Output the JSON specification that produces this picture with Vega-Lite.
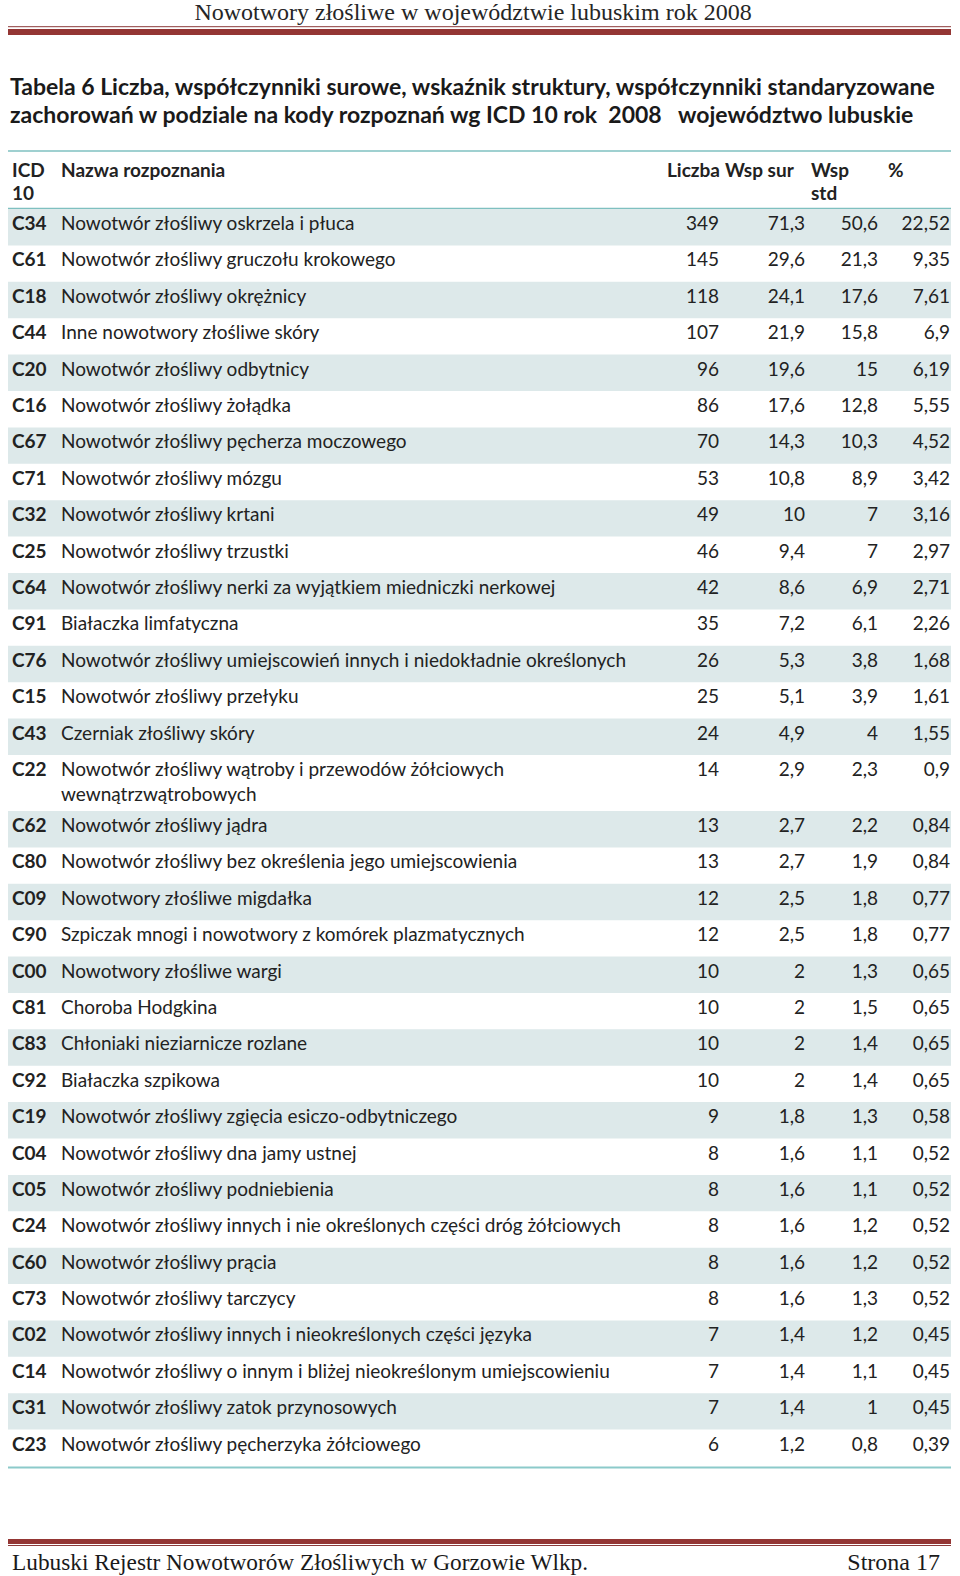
{
  "$schema": "https://vega.github.io/schema/vega-lite/v6.json",
  "padding": 0,
  "spacing": 0,
  "bounds": "flush",
  "background": "white",
  "config": {
    "view": {"stroke": null},
    "concat": {"spacing": 0},
    "text": {"font": "Lato", "fontSize": 19, "color": "#222222"},
    "locale": {"number": {"decimal": ",", "thousands": "\u00a0", "grouping": [3], "currency": ["", " zł"]}}
  },
  "datasets": {
    "rows": [
      {"code": "C34", "name": "Nowotwór złośliwy oskrzela i płuca", "n": 349, "sur": 71.3, "std": 50.6, "pct": 22.52},
      {"code": "C61", "name": "Nowotwór złośliwy gruczołu krokowego", "n": 145, "sur": 29.6, "std": 21.3, "pct": 9.35},
      {"code": "C18", "name": "Nowotwór złośliwy okrężnicy", "n": 118, "sur": 24.1, "std": 17.6, "pct": 7.61},
      {"code": "C44", "name": "Inne nowotwory złośliwe skóry", "n": 107, "sur": 21.9, "std": 15.8, "pct": 6.9},
      {"code": "C20", "name": "Nowotwór złośliwy odbytnicy", "n": 96, "sur": 19.6, "std": 15, "pct": 6.19},
      {"code": "C16", "name": "Nowotwór złośliwy żołądka", "n": 86, "sur": 17.6, "std": 12.8, "pct": 5.55},
      {"code": "C67", "name": "Nowotwór złośliwy pęcherza moczowego", "n": 70, "sur": 14.3, "std": 10.3, "pct": 4.52},
      {"code": "C71", "name": "Nowotwór złośliwy mózgu", "n": 53, "sur": 10.8, "std": 8.9, "pct": 3.42},
      {"code": "C32", "name": "Nowotwór złośliwy krtani", "n": 49, "sur": 10, "std": 7, "pct": 3.16},
      {"code": "C25", "name": "Nowotwór złośliwy trzustki", "n": 46, "sur": 9.4, "std": 7, "pct": 2.97},
      {"code": "C64", "name": "Nowotwór złośliwy nerki za wyjątkiem miedniczki nerkowej", "n": 42, "sur": 8.6, "std": 6.9, "pct": 2.71},
      {"code": "C91", "name": "Białaczka limfatyczna", "n": 35, "sur": 7.2, "std": 6.1, "pct": 2.26},
      {"code": "C76", "name": "Nowotwór złośliwy umiejscowień innych i niedokładnie określonych", "n": 26, "sur": 5.3, "std": 3.8, "pct": 1.68},
      {"code": "C15", "name": "Nowotwór złośliwy przełyku", "n": 25, "sur": 5.1, "std": 3.9, "pct": 1.61},
      {"code": "C43", "name": "Czerniak złośliwy skóry", "n": 24, "sur": 4.9, "std": 4, "pct": 1.55},
      {"code": "C22", "name": "Nowotwór złośliwy wątroby i przewodów żółciowych\nwewnątrzwątrobowych", "n": 14, "sur": 2.9, "std": 2.3, "pct": 0.9},
      {"code": "C62", "name": "Nowotwór złośliwy jądra", "n": 13, "sur": 2.7, "std": 2.2, "pct": 0.84},
      {"code": "C80", "name": "Nowotwór złośliwy bez określenia jego umiejscowienia", "n": 13, "sur": 2.7, "std": 1.9, "pct": 0.84},
      {"code": "C09", "name": "Nowotwory złośliwe migdałka", "n": 12, "sur": 2.5, "std": 1.8, "pct": 0.77},
      {"code": "C90", "name": "Szpiczak mnogi i nowotwory z komórek plazmatycznych", "n": 12, "sur": 2.5, "std": 1.8, "pct": 0.77},
      {"code": "C00", "name": "Nowotwory złośliwe wargi", "n": 10, "sur": 2, "std": 1.3, "pct": 0.65},
      {"code": "C81", "name": "Choroba Hodgkina", "n": 10, "sur": 2, "std": 1.5, "pct": 0.65},
      {"code": "C83", "name": "Chłoniaki nieziarnicze rozlane", "n": 10, "sur": 2, "std": 1.4, "pct": 0.65},
      {"code": "C92", "name": "Białaczka szpikowa", "n": 10, "sur": 2, "std": 1.4, "pct": 0.65},
      {"code": "C19", "name": "Nowotwór złośliwy zgięcia esiczo-odbytniczego", "n": 9, "sur": 1.8, "std": 1.3, "pct": 0.58},
      {"code": "C04", "name": "Nowotwór złośliwy dna jamy ustnej", "n": 8, "sur": 1.6, "std": 1.1, "pct": 0.52},
      {"code": "C05", "name": "Nowotwór złośliwy podniebienia", "n": 8, "sur": 1.6, "std": 1.1, "pct": 0.52},
      {"code": "C24", "name": "Nowotwór złośliwy innych i nie określonych części dróg żółciowych", "n": 8, "sur": 1.6, "std": 1.2, "pct": 0.52},
      {"code": "C60", "name": "Nowotwór złośliwy prącia", "n": 8, "sur": 1.6, "std": 1.2, "pct": 0.52},
      {"code": "C73", "name": "Nowotwór złośliwy tarczycy", "n": 8, "sur": 1.6, "std": 1.3, "pct": 0.52},
      {"code": "C02", "name": "Nowotwór złośliwy innych i nieokreślonych części języka", "n": 7, "sur": 1.4, "std": 1.2, "pct": 0.45},
      {"code": "C14", "name": "Nowotwór złośliwy o innym i bliżej nieokreślonym umiejscowieniu", "n": 7, "sur": 1.4, "std": 1.1, "pct": 0.45},
      {"code": "C31", "name": "Nowotwór złośliwy zatok przynosowych", "n": 7, "sur": 1.4, "std": 1, "pct": 0.45},
      {"code": "C23", "name": "Nowotwór złośliwy pęcherzyka żółciowego", "n": 6, "sur": 1.2, "std": 0.8, "pct": 0.39}
    ]
  },
  "vconcat": [
    {
      "width": 960,
      "height": 209,
      "data": {"values": [{}]},
      "layer": [
        {"mark": {"type": "text", "text": "Nowotwory złośliwe w województwie lubuskim rok 2008", "font": "Liberation Serif", "fontSize": 24, "align": "center", "baseline": "alphabetic", "color": "#262626"},
         "encoding": {"x": {"datum": 473, "type": "quantitative", "scale": {"domain": [0, 960], "nice": false, "zero": false}, "axis": null},
                      "y": {"datum": 20, "type": "quantitative", "scale": {"domain": [0, 209], "reverse": true, "nice": false, "zero": false}, "axis": null}}},
        {"mark": {"type": "rule", "color": "#8c3b3b", "strokeWidth": 1},
         "encoding": {"x": {"datum": 8, "type": "quantitative", "axis": null}, "x2": {"datum": 951}, "y": {"datum": 26.7, "type": "quantitative", "axis": null}}},
        {"mark": {"type": "rule", "color": "#943634", "strokeWidth": 6},
         "encoding": {"x": {"datum": 8, "type": "quantitative", "axis": null}, "x2": {"datum": 951}, "y": {"datum": 32, "type": "quantitative", "axis": null}}},
        {"mark": {"type": "text", "text": "Tabela 6 Liczba, współczynniki surowe, wskaźnik struktury, współczynniki standaryzowane", "fontWeight": "bold", "fontSize": 23, "align": "left", "baseline": "alphabetic", "color": "#1a1a1a"},
         "encoding": {"x": {"datum": 10, "type": "quantitative", "axis": null}, "y": {"datum": 95, "type": "quantitative", "axis": null}}},
        {"mark": {"type": "text", "text": "zachorowań w podziale na kody rozpoznań wg ICD 10 rok \u00a02008 \u00a0 województwo lubuskie", "fontWeight": "bold", "fontSize": 23, "align": "left", "baseline": "alphabetic", "color": "#1a1a1a"},
         "encoding": {"x": {"datum": 10, "type": "quantitative", "axis": null}, "y": {"datum": 123, "type": "quantitative", "axis": null}}},
        {"mark": {"type": "rule", "color": "#7fc0c0", "strokeWidth": 1.5},
         "encoding": {"x": {"datum": 8, "type": "quantitative", "axis": null}, "x2": {"datum": 951}, "y": {"datum": 151, "type": "quantitative", "axis": null}}},
        {"mark": {"type": "text", "text": "ICD", "fontWeight": "bold", "align": "left", "baseline": "alphabetic"},
         "encoding": {"x": {"datum": 12, "type": "quantitative", "axis": null}, "y": {"datum": 177, "type": "quantitative", "axis": null}}},
        {"mark": {"type": "text", "text": "10", "fontWeight": "bold", "align": "left", "baseline": "alphabetic"},
         "encoding": {"x": {"datum": 12, "type": "quantitative", "axis": null}, "y": {"datum": 200, "type": "quantitative", "axis": null}}},
        {"mark": {"type": "text", "text": "Nazwa rozpoznania", "fontWeight": "bold", "align": "left", "baseline": "alphabetic"},
         "encoding": {"x": {"datum": 61, "type": "quantitative", "axis": null}, "y": {"datum": 177, "type": "quantitative", "axis": null}}},
        {"mark": {"type": "text", "text": "Liczba", "fontWeight": "bold", "align": "left", "baseline": "alphabetic"},
         "encoding": {"x": {"datum": 667, "type": "quantitative", "axis": null}, "y": {"datum": 177, "type": "quantitative", "axis": null}}},
        {"mark": {"type": "text", "text": "Wsp sur", "fontWeight": "bold", "align": "left", "baseline": "alphabetic"},
         "encoding": {"x": {"datum": 725, "type": "quantitative", "axis": null}, "y": {"datum": 177, "type": "quantitative", "axis": null}}},
        {"mark": {"type": "text", "text": "Wsp", "fontWeight": "bold", "align": "left", "baseline": "alphabetic"},
         "encoding": {"x": {"datum": 811, "type": "quantitative", "axis": null}, "y": {"datum": 177, "type": "quantitative", "axis": null}}},
        {"mark": {"type": "text", "text": "std", "fontWeight": "bold", "align": "left", "baseline": "alphabetic"},
         "encoding": {"x": {"datum": 811, "type": "quantitative", "axis": null}, "y": {"datum": 200, "type": "quantitative", "axis": null}}},
        {"mark": {"type": "text", "text": "%", "fontWeight": "bold", "align": "left", "baseline": "alphabetic"},
         "encoding": {"x": {"datum": 888, "type": "quantitative", "axis": null}, "y": {"datum": 177, "type": "quantitative", "axis": null}}},
        {"mark": {"type": "rule", "color": "#7fc0c0", "strokeWidth": 1.5},
         "encoding": {"x": {"datum": 8, "type": "quantitative", "axis": null}, "x2": {"datum": 951}, "y": {"datum": 208.5, "type": "quantitative", "axis": null}}}
      ]
    },
    {
      "width": 960,
      "height": 546,
      "data": {"name": "rows"},
      "transform": [{"window": [{"op": "row_number", "as": "rn"}]}, {"filter": "datum.rn <= 15"}],
      "layer": [
        {"transform": [{"filter": "datum.rn % 2 == 1"}],
         "mark": {"type": "rect", "color": "#dde9ea"},
         "encoding": {"x": {"datum": 8, "type": "quantitative", "scale": {"domain": [0, 960], "nice": false, "zero": false}, "axis": null}, "x2": {"datum": 951},
                      "y": {"field": "rn", "type": "ordinal", "scale": {"type": "band", "paddingInner": 0, "paddingOuter": 0}, "axis": null}}},
        {"mark": {"type": "text", "align": "left", "baseline": "alphabetic", "dy": 21, "fontWeight": "bold"},
         "encoding": {"x": {"datum": 12, "type": "quantitative", "axis": null}, "y": {"field": "rn", "type": "ordinal", "bandPosition": 0, "axis": null}, "text": {"field": "code"}}},
        {"mark": {"type": "text", "align": "left", "baseline": "alphabetic", "dy": 21},
         "encoding": {"x": {"datum": 61, "type": "quantitative", "axis": null}, "y": {"field": "rn", "type": "ordinal", "bandPosition": 0, "axis": null}, "text": {"field": "name"}}},
        {"mark": {"type": "text", "align": "right", "baseline": "alphabetic", "dy": 21},
         "encoding": {"x": {"datum": 719, "type": "quantitative", "axis": null}, "y": {"field": "rn", "type": "ordinal", "bandPosition": 0, "axis": null}, "text": {"field": "n", "type": "quantitative", "format": "~f"}}},
        {"mark": {"type": "text", "align": "right", "baseline": "alphabetic", "dy": 21},
         "encoding": {"x": {"datum": 805, "type": "quantitative", "axis": null}, "y": {"field": "rn", "type": "ordinal", "bandPosition": 0, "axis": null}, "text": {"field": "sur", "type": "quantitative", "format": "~f"}}},
        {"mark": {"type": "text", "align": "right", "baseline": "alphabetic", "dy": 21},
         "encoding": {"x": {"datum": 878, "type": "quantitative", "axis": null}, "y": {"field": "rn", "type": "ordinal", "bandPosition": 0, "axis": null}, "text": {"field": "std", "type": "quantitative", "format": "~f"}}},
        {"mark": {"type": "text", "align": "right", "baseline": "alphabetic", "dy": 21},
         "encoding": {"x": {"datum": 950, "type": "quantitative", "axis": null}, "y": {"field": "rn", "type": "ordinal", "bandPosition": 0, "axis": null}, "text": {"field": "pct", "type": "quantitative", "format": "~f"}}}
      ]
    },
    {
      "width": 960,
      "height": 56,
      "data": {"name": "rows"},
      "transform": [{"window": [{"op": "row_number", "as": "rn"}]}, {"filter": "datum.rn == 16"}],
      "layer": [
        {"mark": {"type": "text", "align": "left", "baseline": "alphabetic", "dy": 21, "fontWeight": "bold"},
         "encoding": {"x": {"datum": 12, "type": "quantitative", "scale": {"domain": [0, 960], "nice": false, "zero": false}, "axis": null}, "y": {"field": "rn", "type": "ordinal", "bandPosition": 0, "scale": {"type": "band", "paddingInner": 0, "paddingOuter": 0}, "axis": null}, "text": {"field": "code"}}},
        {"mark": {"type": "text", "align": "left", "baseline": "alphabetic", "dy": 21, "lineBreak": "\n", "lineHeight": 24.5},
         "encoding": {"x": {"datum": 61, "type": "quantitative", "axis": null}, "y": {"field": "rn", "type": "ordinal", "bandPosition": 0, "axis": null}, "text": {"field": "name"}}},
        {"mark": {"type": "text", "align": "right", "baseline": "alphabetic", "dy": 21},
         "encoding": {"x": {"datum": 719, "type": "quantitative", "axis": null}, "y": {"field": "rn", "type": "ordinal", "bandPosition": 0, "axis": null}, "text": {"field": "n", "type": "quantitative", "format": "~f"}}},
        {"mark": {"type": "text", "align": "right", "baseline": "alphabetic", "dy": 21},
         "encoding": {"x": {"datum": 805, "type": "quantitative", "axis": null}, "y": {"field": "rn", "type": "ordinal", "bandPosition": 0, "axis": null}, "text": {"field": "sur", "type": "quantitative", "format": "~f"}}},
        {"mark": {"type": "text", "align": "right", "baseline": "alphabetic", "dy": 21},
         "encoding": {"x": {"datum": 878, "type": "quantitative", "axis": null}, "y": {"field": "rn", "type": "ordinal", "bandPosition": 0, "axis": null}, "text": {"field": "std", "type": "quantitative", "format": "~f"}}},
        {"mark": {"type": "text", "align": "right", "baseline": "alphabetic", "dy": 21},
         "encoding": {"x": {"datum": 950, "type": "quantitative", "axis": null}, "y": {"field": "rn", "type": "ordinal", "bandPosition": 0, "axis": null}, "text": {"field": "pct", "type": "quantitative", "format": "~f"}}}
      ]
    },
    {
      "width": 960,
      "height": 655,
      "data": {"name": "rows"},
      "transform": [{"window": [{"op": "row_number", "as": "rn"}]}, {"filter": "datum.rn >= 17"}],
      "layer": [
        {"transform": [{"filter": "datum.rn % 2 == 1"}],
         "mark": {"type": "rect", "color": "#dde9ea"},
         "encoding": {"x": {"datum": 8, "type": "quantitative", "scale": {"domain": [0, 960], "nice": false, "zero": false}, "axis": null}, "x2": {"datum": 951},
                      "y": {"field": "rn", "type": "ordinal", "scale": {"type": "band", "paddingInner": 0, "paddingOuter": 0}, "axis": null}}},
        {"mark": {"type": "text", "align": "left", "baseline": "alphabetic", "dy": 21, "fontWeight": "bold"},
         "encoding": {"x": {"datum": 12, "type": "quantitative", "axis": null}, "y": {"field": "rn", "type": "ordinal", "bandPosition": 0, "axis": null}, "text": {"field": "code"}}},
        {"mark": {"type": "text", "align": "left", "baseline": "alphabetic", "dy": 21},
         "encoding": {"x": {"datum": 61, "type": "quantitative", "axis": null}, "y": {"field": "rn", "type": "ordinal", "bandPosition": 0, "axis": null}, "text": {"field": "name"}}},
        {"mark": {"type": "text", "align": "right", "baseline": "alphabetic", "dy": 21},
         "encoding": {"x": {"datum": 719, "type": "quantitative", "axis": null}, "y": {"field": "rn", "type": "ordinal", "bandPosition": 0, "axis": null}, "text": {"field": "n", "type": "quantitative", "format": "~f"}}},
        {"mark": {"type": "text", "align": "right", "baseline": "alphabetic", "dy": 21},
         "encoding": {"x": {"datum": 805, "type": "quantitative", "axis": null}, "y": {"field": "rn", "type": "ordinal", "bandPosition": 0, "axis": null}, "text": {"field": "sur", "type": "quantitative", "format": "~f"}}},
        {"mark": {"type": "text", "align": "right", "baseline": "alphabetic", "dy": 21},
         "encoding": {"x": {"datum": 878, "type": "quantitative", "axis": null}, "y": {"field": "rn", "type": "ordinal", "bandPosition": 0, "axis": null}, "text": {"field": "std", "type": "quantitative", "format": "~f"}}},
        {"mark": {"type": "text", "align": "right", "baseline": "alphabetic", "dy": 21},
         "encoding": {"x": {"datum": 950, "type": "quantitative", "axis": null}, "y": {"field": "rn", "type": "ordinal", "bandPosition": 0, "axis": null}, "text": {"field": "pct", "type": "quantitative", "format": "~f"}}}
      ]
    },
    {
      "width": 960,
      "height": 110,
      "data": {"values": [{}]},
      "layer": [
        {"mark": {"type": "rule", "color": "#8ccaca", "strokeWidth": 2},
         "encoding": {"x": {"datum": 8, "type": "quantitative", "scale": {"domain": [0, 960], "nice": false, "zero": false}, "axis": null}, "x2": {"datum": 951},
                      "y": {"datum": 1.5, "type": "quantitative", "scale": {"domain": [0, 110], "reverse": true, "nice": false, "zero": false}, "axis": null}}},
        {"mark": {"type": "rule", "color": "#943634", "strokeWidth": 5},
         "encoding": {"x": {"datum": 8, "type": "quantitative", "axis": null}, "x2": {"datum": 951}, "y": {"datum": 75.5, "type": "quantitative", "axis": null}}},
        {"mark": {"type": "rule", "color": "#8c3b3b", "strokeWidth": 1},
         "encoding": {"x": {"datum": 8, "type": "quantitative", "axis": null}, "x2": {"datum": 951}, "y": {"datum": 79.5, "type": "quantitative", "axis": null}}},
        {"mark": {"type": "text", "text": "Lubuski Rejestr Nowotworów Złośliwych w Gorzowie Wlkp.", "font": "Liberation Serif", "fontSize": 23.3, "align": "left", "baseline": "alphabetic", "color": "#1a1a1a"},
         "encoding": {"x": {"datum": 12, "type": "quantitative", "axis": null}, "y": {"datum": 104, "type": "quantitative", "axis": null}}},
        {"mark": {"type": "text", "text": "Strona 17", "font": "Liberation Serif", "fontSize": 24, "align": "right", "baseline": "alphabetic", "color": "#1a1a1a"},
         "encoding": {"x": {"datum": 940, "type": "quantitative", "axis": null}, "y": {"datum": 104, "type": "quantitative", "axis": null}}}
      ]
    }
  ]
}
